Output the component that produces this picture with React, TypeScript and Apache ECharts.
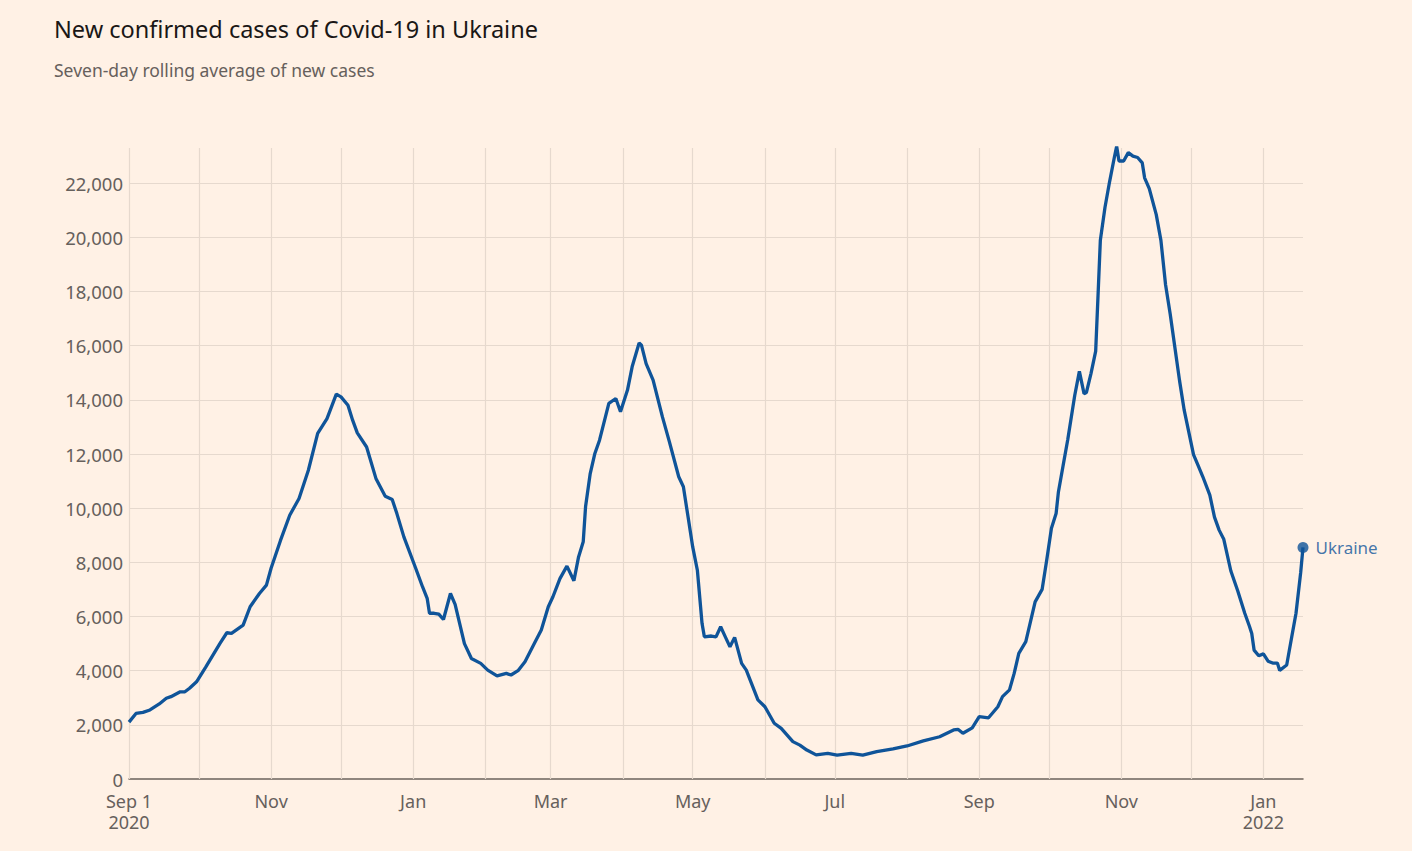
import React, { useEffect, useRef } from 'react';
import * as echarts from 'echarts';

const caseDates = [
  '2020-09-01','2020-09-04','2020-09-07','2020-09-10','2020-09-14','2020-09-17','2020-09-19','2020-09-23','2020-09-25','2020-09-27','2020-09-30',
  '2020-10-04','2020-10-10','2020-10-13','2020-10-15','2020-10-20','2020-10-23','2020-10-27','2020-10-30',
  '2020-11-01','2020-11-05','2020-11-09','2020-11-13','2020-11-17','2020-11-21','2020-11-25','2020-11-29',
  '2020-12-01','2020-12-04','2020-12-06','2020-12-08','2020-12-12','2020-12-16','2020-12-20','2020-12-23','2020-12-25','2020-12-28',
  '2021-01-02','2021-01-05','2021-01-07','2021-01-08','2021-01-10','2021-01-12','2021-01-14','2021-01-17','2021-01-19','2021-01-23','2021-01-26','2021-01-30',
  '2021-02-02','2021-02-06','2021-02-10','2021-02-12','2021-02-15','2021-02-18','2021-02-22','2021-02-25','2021-02-28',
  '2021-03-02','2021-03-05','2021-03-08','2021-03-11','2021-03-13','2021-03-15','2021-03-16','2021-03-18','2021-03-20','2021-03-22','2021-03-26','2021-03-29','2021-03-31',
  '2021-04-03','2021-04-05','2021-04-08','2021-04-09','2021-04-11','2021-04-14','2021-04-18','2021-04-21','2021-04-25','2021-04-27','2021-04-29',
  '2021-05-01','2021-05-03','2021-05-04','2021-05-05','2021-05-06','2021-05-09','2021-05-11','2021-05-13','2021-05-15','2021-05-17','2021-05-19','2021-05-22','2021-05-24','2021-05-29',
  '2021-06-01','2021-06-05','2021-06-08','2021-06-13','2021-06-16','2021-06-19','2021-06-23','2021-06-28',
  '2021-07-02','2021-07-08','2021-07-13','2021-07-19','2021-07-26',
  '2021-08-01','2021-08-08','2021-08-15','2021-08-21','2021-08-23','2021-08-25','2021-08-29',
  '2021-09-01','2021-09-05','2021-09-09','2021-09-11','2021-09-14','2021-09-16','2021-09-18','2021-09-21','2021-09-25','2021-09-28','2021-09-30',
  '2021-10-02','2021-10-04','2021-10-05','2021-10-07','2021-10-09','2021-10-11','2021-10-12','2021-10-14','2021-10-16','2021-10-17','2021-10-19','2021-10-21','2021-10-22','2021-10-23','2021-10-25','2021-10-27','2021-10-29','2021-10-30','2021-10-31',
  '2021-11-02','2021-11-04','2021-11-06','2021-11-08','2021-11-10','2021-11-11','2021-11-13','2021-11-16','2021-11-18','2021-11-20','2021-11-22','2021-11-24','2021-11-26','2021-11-28','2021-11-30',
  '2021-12-02','2021-12-04','2021-12-06','2021-12-09','2021-12-11','2021-12-13','2021-12-15','2021-12-18','2021-12-21','2021-12-24','2021-12-26','2021-12-27','2021-12-28','2021-12-30',
  '2022-01-01','2022-01-03','2022-01-05','2022-01-07','2022-01-08','2022-01-11','2022-01-13','2022-01-15','2022-01-17','2022-01-18',
];

const caseValues = [
  2100,2420,2460,2550,2770,2980,3040,3220,3220,3350,3590,
  4140,5000,5400,5380,5680,6360,6850,7160,
  7780,8800,9740,10360,11400,12760,13310,14210,
  14110,13800,13250,12780,12260,11100,10440,10320,9800,8940,
  7800,7100,6670,6120,6120,6090,5890,6850,6450,5000,4450,4270,
  4020,3810,3900,3840,4000,4330,5000,5500,6360,
  6730,7400,7860,7320,8200,8760,10050,11280,12020,12510,13870,14050,13560,
  14360,15220,16100,16020,15340,14730,13370,12450,11160,10790,9680,
  8570,7710,6730,5750,5250,5280,5250,5620,5250,4880,5230,4270,4020,2920,
  2670,2060,1870,1380,1250,1070,890,950,
  880,950,880,1010,1110,
  1220,1410,1560,1810,1830,1690,1890,
  2300,2260,2670,3040,3290,3900,4640,5070,6540,7000,8100,
  9260,9800,10600,11570,12530,13620,14160,15050,14230,14270,14980,15800,17840,19890,21110,22070,22950,23360,22820,
  22820,23130,23000,22950,22750,22200,21800,20840,19890,18250,17160,15930,14710,13620,12800,
  11980,11570,11160,10480,9670,9190,8850,7690,6940,6120,5640,5370,4760,4550,
  4620,4350,4280,4280,4010,4210,5170,6120,7620,8550,
];

const seriesName = 'Ukraine';
const monthGridDates = [
  '2020-09-01','2020-10-01','2020-11-01','2020-12-01','2021-01-01','2021-02-01','2021-03-01','2021-04-01','2021-05-01',
  '2021-06-01','2021-07-01','2021-08-01','2021-09-01','2021-10-01','2021-11-01','2021-12-01','2022-01-01',
];
const xTickDates = ['2020-09-01','2020-11-01','2021-01-01','2021-03-01','2021-05-01','2021-07-01','2021-09-01','2021-11-01','2022-01-01'];
const xTickLabels = ['Sep 1\n2020','Nov','Jan','Mar','May','Jul','Sep','Nov','Jan\n2022'];
const yMin = 0;
const yMax = 23300;
const yInterval = 2000;

const ts = (d: string) => Date.UTC(+d.slice(0, 4), +d.slice(5, 7) - 1, +d.slice(8, 10));

const FONT = "'Noto Sans', sans-serif";
const BG = '#fff1e5';
const LINE = '#0f5499';
const GRID = '#e6d9ce';
const TEXT = '#66605c';

export default function App() {
  const ref = useRef<HTMLDivElement>(null);
  useEffect(() => {
    if (!ref.current) return;
    const chart = echarts.init(ref.current, null, { renderer: 'svg' });
    const data = caseDates.map((d, i) => [ts(d), caseValues[i]]);
    const last = data[data.length - 1];
    const tickTs = xTickDates.map(ts);
    chart.setOption({
      animation: false,
      backgroundColor: BG,
      textStyle: { fontFamily: FONT },
      title: [
        {
          text: 'New confirmed cases of Covid-19 in Ukraine',
          left: 49, top: 12,
          textStyle: { fontFamily: FONT, fontSize: 23.5, fontWeight: 'normal', color: '#1a1716' },
        },
        {
          text: 'Seven-day rolling average of new cases',
          left: 49, top: 56,
          textStyle: { fontFamily: FONT, fontSize: 17.5, fontWeight: 'normal', color: TEXT },
        },
      ],
      grid: { left: 129, right: 109, top: 148, bottom: 72, containLabel: false },
      xAxis: {
        type: 'value',
        min: ts(caseDates[0]),
        max: ts(caseDates[caseDates.length - 1]),
        axisLine: { show: true, lineStyle: { color: '#6b625b', width: 1.5 } },
        axisTick: { show: false },
        splitLine: { show: false },
        axisLabel: {
          customValues: tickTs,
          showMinLabel: true,
          showMaxLabel: true,
          hideOverlap: false,
          margin: 11,
          color: TEXT,
          fontSize: 18,
          lineHeight: 21,
          fontFamily: FONT,
          formatter: (v: number) => {
            const i = tickTs.indexOf(v);
            return i >= 0 ? xTickLabels[i] : '';
          },
        },
      },
      yAxis: {
        type: 'value',
        min: yMin,
        max: yMax,
        interval: yInterval,
        axisLine: { show: false },
        axisTick: { show: false },
        splitLine: { show: true, showMaxLine: false, showMinLine: false, lineStyle: { color: GRID, width: 1 } },
        axisLabel: {
          showMaxLabel: false,
          margin: 6,
          color: TEXT,
          fontSize: 18.5,
          fontFamily: FONT,
          formatter: (v: number) => (v % yInterval === 0 ? v.toLocaleString('en-US') : ''),
        },
      },
      series: [
        {
          type: 'line',
          z: 1,
          data,
          showSymbol: false,
          silent: true,
          lineStyle: { opacity: 0 },
          markLine: {
            silent: true,
            symbol: ['none', 'none'],
            label: { show: false },
            lineStyle: { color: GRID, width: 1.2, type: 'solid' },
            data: monthGridDates.map((d) => ({ xAxis: ts(d) })),
          },
        },
        {
          name: seriesName,
          type: 'line',
          z: 5,
          data,
          showSymbol: false,
          lineStyle: { color: LINE, width: 3.3 },
          itemStyle: { color: LINE },
        },
        {
          name: seriesName,
          type: 'scatter',
          z: 6,
          data: [last],
          symbolSize: 11,
          itemStyle: { color: LINE },
          label: {
            show: true,
            position: 'right',
            distance: 7,
            formatter: seriesName,
            color: LINE,
            fontSize: 17,
            fontFamily: FONT,
          },
        },
      ],
    });
    return () => chart.dispose();
  }, []);
  return (
    <div
      ref={ref}
      style={{ position: 'absolute', left: 0, top: 0, width: 1412, height: 851, background: BG }}
    />
  );
}
